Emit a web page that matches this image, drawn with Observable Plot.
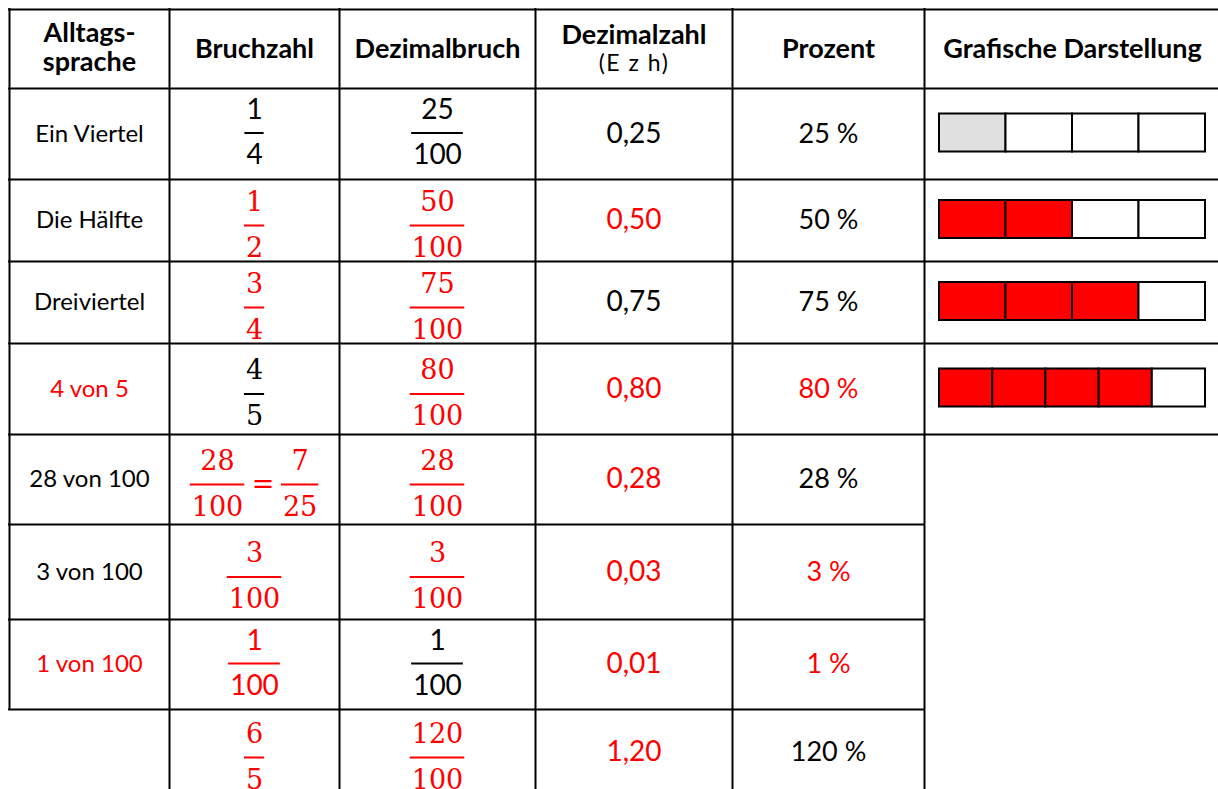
<!DOCTYPE html>
<html><head><meta charset="utf-8">
<script src="https://cdn.jsdelivr.net/npm/d3@7"></script>
<script src="https://cdn.jsdelivr.net/npm/@observablehq/plot@0.6"></script>
<style>html,body{margin:0;padding:0;background:#fff;overflow:hidden}</style>
</head><body><div id="chart"></div>
<script>
// ---------- data ----------
const kopfzeile = ["Alltags-\nsprache", "Bruchzahl", "Dezimalbruch", "Dezimalzahl", "Prozent", "Grafische Darstellung"];
const kopfZusatz = "(E z h)";
const alltagssprache = ["Ein Viertel", "Die Hälfte", "Dreiviertel", "4 von 5", "28 von 100", "3 von 100", "1 von 100", ""];
const bruchzahl = ["1/4", "1/2", "3/4", "4/5", "28/100 = 7/25", "3/100", "1/100", "6/5"];
const dezimalbruch = ["25/100", "50/100", "75/100", "80/100", "28/100", "3/100", "1/100", "120/100"];
const dezimalzahl = ["0,25", "0,50", "0,75", "0,80", "0,28", "0,03", "0,01", "1,20"];
const prozent = ["25 %", "50 %", "75 %", "80 %", "28 %", "3 %", "1 %", "120 %"];
const grafikTeile = [4, 4, 4, 5];
const grafikGefuellt = [1, 2, 3, 4];
// entries written in as solutions (shown in red)
const alltagRot = [0, 0, 0, 1, 0, 0, 1, 0];
const bruchzahlRot = [0, 1, 1, 0, 1, 1, 1, 1];
const dezimalbruchRot = [0, 1, 1, 1, 1, 1, 0, 1];
const dezimalzahlRot = [0, 1, 0, 1, 1, 1, 1, 1];
const prozentRot = [0, 0, 0, 1, 0, 1, 1, 0];
const grafikRot = [0, 1, 1, 1];
// fractions typeset as formula (serif) vs. plain text
const bruchzahlFormel = [0, 1, 1, 1, 1, 1, 0, 1];
const dezimalbruchFormel = [0, 1, 1, 1, 1, 1, 0, 1];

// ---------- layout ----------
const colEdges = [9, 169, 339, 535, 732, 924, 1220];
const rowEdges = [9, 88, 179, 261, 343, 434, 524, 619, 709, 795];
const SANS = "Lato, 'Open Sans', sans-serif";
const SERIF = "'DejaVu Serif', serif";
const RED = "#ff0000", BLACK = "#000000", GRAY = "#e0e0e0";
const SANS_FR = 28, SERIF_FR = 27;

const ctx = document.createElement("canvas").getContext("2d");
const tw = (s, font) => { ctx.font = font; return ctx.measureText(s).width; };
const colW = c => colEdges[c + 1] - colEdges[c];
const rowH = r => rowEdges[r + 1] - rowEdges[r];
const xOff = (c, px) => c + 0.5 + px / colW(c);
const yOff = (r, px) => r + 0.5 + px / rowH(r);
const col = f => f ? RED : BLACK;

// ---------- cells ----------
const simpleCells = [];
alltagssprache.forEach((t, i) => { if (t) simpleCells.push({x: 0.5, y: i + 1.5, text: t, color: col(alltagRot[i]), size: 24}); });
dezimalzahl.forEach((t, i) => simpleCells.push({x: 3.5, y: i + 1.5, text: t, color: col(dezimalzahlRot[i]), size: 28}));
prozent.forEach((t, i) => simpleCells.push({x: 4.5, y: i + 1.5, text: t, color: col(prozentRot[i]), size: 27}));

const nums = [], dens = [], fbars = [], eqs = [];
function addFraction(str, c, i, red, formel) {
  const size = formel ? SERIF_FR : SANS_FR;
  const font = `${size}px ${formel ? SERIF : SANS}`;
  const parts = str.split(" = ").map(p => p.split("/"));
  const ws = parts.map(([n, d]) => Math.max(tw(n, font), tw(d, font)) + 3);
  const eqW = tw("=", font) + 14;
  const total = d3.sum(ws) + (parts.length - 1) * eqW;
  let start = -total / 2;
  const r = i + 1;
  parts.forEach(([n, d], k) => {
    const cx = start + ws[k] / 2;
    const base = {y: r + 0.5, color: col(red), formel};
    nums.push({...base, x: xOff(c, cx), text: n});
    dens.push({...base, x: xOff(c, cx), text: d});
    fbars.push({...base, x1: xOff(c, start), x2: xOff(c, start + ws[k])});
    start += ws[k];
    if (k < parts.length - 1) {
      eqs.push({...base, x: xOff(c, start + eqW / 2), text: "="});
      start += eqW;
    }
  });
}
bruchzahl.forEach((s, i) => addFraction(s, 1, i, bruchzahlRot[i], bruchzahlFormel[i]));
dezimalbruch.forEach((s, i) => addFraction(s, 2, i, dezimalbruchRot[i], dezimalbruchFormel[i]));

// graphic bars
const segs = [];
const barL = 15, barR = 281, barHalf = 19;
grafikTeile.forEach((n, i) => {
  const r = i + 1;
  const w = (barR - barL) / n;
  for (let k = 0; k < n; k++) {
    segs.push({
      x1: 5 + (barL + k * w) / colW(5), x2: 5 + (barL + (k + 1) * w) / colW(5),
      y1: yOff(r, -barHalf - 1), y2: yOff(r, barHalf - 1),
      color: k < grafikGefuellt[i] ? (grafikRot[i] ? RED : GRAY) : "#ffffff"
    });
  }
});

// grid lines
const hLines = rowEdges.map((_, j) => ({y: j, x1: 0, x2: j <= 5 ? 6 : 5})).filter(d => d.y < 9);
const vLines = colEdges.map((_, j) => ({x: j, y1: 0, y2: j === 0 ? 8 : j === 6 ? 5 : 9}));

const header = kopfzeile.map((t, j) => ({x: j + 0.5, y: 0.5, text: t}));

const frMarks = [];
for (const formel of [0, 1]) {
  const ff = formel ? SERIF : SANS, fs = formel ? SERIF_FR : SANS_FR;
  const barDy = formel ? 5 : -1;
  const f = arr => arr.filter(d => !!d.formel === !!formel);
  frMarks.push(
    Plot.text(f(nums), {x: "x", y: "y", text: "text", fill: "color", fontFamily: ff, fontSize: fs, lineAnchor: "bottom", dy: barDy - (formel ? 15 : 14)}),
    Plot.text(f(dens), {x: "x", y: "y", text: "text", fill: "color", fontFamily: ff, fontSize: fs, lineAnchor: "bottom", dy: barDy + 31}),
    Plot.ruleY(f(fbars), {y: "y", x1: "x1", x2: "x2", stroke: "color", strokeWidth: 2, dy: barDy}),
    Plot.text(f(eqs), {x: "x", y: "y", text: "text", fill: "color", fontFamily: ff, fontSize: fs, dy: barDy})
  );
}

const chart = Plot.plot({
  width: 1218, height: 789, margin: 0,
  style: {background: "#fff"},
  x: {type: "linear", domain: d3.range(7), range: colEdges, axis: null},
  y: {type: "linear", domain: d3.range(10), range: rowEdges, axis: null},
  color: {type: "identity"},
  marks: [
    Plot.rect(segs, {x1: "x1", x2: "x2", y1: "y1", y2: "y2", fill: "color", stroke: BLACK, strokeWidth: 2}),
    Plot.ruleY(hLines, {y: "y", x1: "x1", x2: "x2", stroke: BLACK, strokeWidth: 2, strokeLinecap: "square"}),
    Plot.ruleX(vLines, {x: "x", y1: "y1", y2: "y2", stroke: BLACK, strokeWidth: 2, strokeLinecap: "square"}),
    Plot.text(header.filter(d => d.x === 0.5), {x: "x", y: "y", text: "text", fontFamily: SANS, fontSize: 27, fontWeight: "bold", lineHeight: 1.08, fill: BLACK, dy: -2}),
    Plot.text(header.filter(d => d.x !== 3.5 && d.x !== 0.5), {x: "x", y: "y", text: "text", fontFamily: SANS, fontSize: 27, fontWeight: "bold", fill: BLACK}),
    Plot.text(header.filter(d => d.x === 3.5), {x: "x", y: "y", text: "text", fontFamily: SANS, fontSize: 27, fontWeight: "bold", fill: BLACK, dy: -14}),
    Plot.text([{x: 3.5, y: 0.5, text: kopfZusatz}], {x: "x", y: "y", text: "text", fontFamily: SANS, fontSize: 23, fill: BLACK, dy: 15}),
    ...simpleCells.map(d => Plot.text([d], {x: "x", y: "y", text: "text", fill: "color", fontFamily: SANS, fontSize: d.size})),
    ...frMarks
  ]
});
d3.select(chart).selectAll("text").filter(function() { return this.textContent === kopfZusatz; }).style("letter-spacing", "1.5px");
document.getElementById("chart").appendChild(chart);
</script>
</body></html>
